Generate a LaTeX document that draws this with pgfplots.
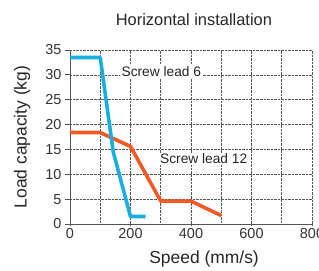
\documentclass[border=0pt]{standalone}
\usepackage{pgfplots}
\pgfplotsset{compat=1.18}
\usepackage{fontspec}
\setmainfont{Liberation Sans}
\definecolor{lblue}{HTML}{19AEDF}
\definecolor{lorange}{HTML}{F15A24}
\definecolor{axgray}{HTML}{555555}
\begin{document}
\begin{tikzpicture}
\begin{axis}[
  at={(0,0)}, anchor=south west,
  scale only axis,
  width=242bp, height=174bp,
  xmin=0, xmax=800, ymin=0, ymax=35,
  axis x line*=bottom, axis y line*=left,
  axis line style={axgray, line width=0.9pt, -},
  x axis line style={shorten <=-4bp},
  xtick={0,200,...,800}, minor xtick={100,300,500,700},
  ytick={0,5,...,35},
  grid=both,
  major grid style={densely dotted, axgray, line width=0.6pt},
  minor grid style={densely dotted, axgray, line width=0.6pt},
  xtick style={axgray, line width=0.8pt},
  ytick style={axgray, line width=0.8pt},
  minor tick length=0pt,
  major tick length=5bp,
  xtick align=center, ytick align=outside,
  /pgf/number format/assume math mode=true,
  tick label style={font=\fontsize{14.5}{15}\selectfont, text=black!80},
  xticklabel style={yshift=2bp},
  xlabel={Speed (mm/s)},
  ylabel={Load capacity (kg)},
  every axis x label/.style={at={(axis description cs:0.554,-0.201)}, anchor=center, font=\fontsize{17.5}{18}\selectfont, text=black!85},
  every axis y label/.style={at={(axis description cs:-0.198,0.5)}, anchor=center, rotate=90, font=\fontsize{17.5}{18}\selectfont, text=black!85},
  title={Horizontal installation},
  every axis title/.style={at={(axis description cs:0.512,1.172)}, anchor=center, font=\fontsize{16.5}{17}\selectfont, text=black!85},
  clip=false,
]
\addplot[lorange, line width=3.6pt, line join=round] coordinates {
  (0,18.4) (100,18.4) (200,15.6) (300,4.6) (400,4.6) (500,1.7)
};
\addplot[lblue, line width=3.6pt, line join=round] coordinates {
  (0,33.5) (100,33.5) (143,14.5) (200,1.5) (250,1.5)
};
\node[fill=white, inner sep=2pt, font=\fontsize{13.8}{14}\selectfont, text=black!85] at (axis cs:302,30.6) {Screw lead 6};
\node[fill=white, inner sep=1pt, font=\fontsize{13.8}{14}\selectfont, text=black!85] at (axis cs:442,13.1) {Screw lead 12};
\end{axis}
\pgfresetboundingbox
\path (-70bp,-47bp) rectangle (249bp,224bp);
\end{tikzpicture}
\end{document}
